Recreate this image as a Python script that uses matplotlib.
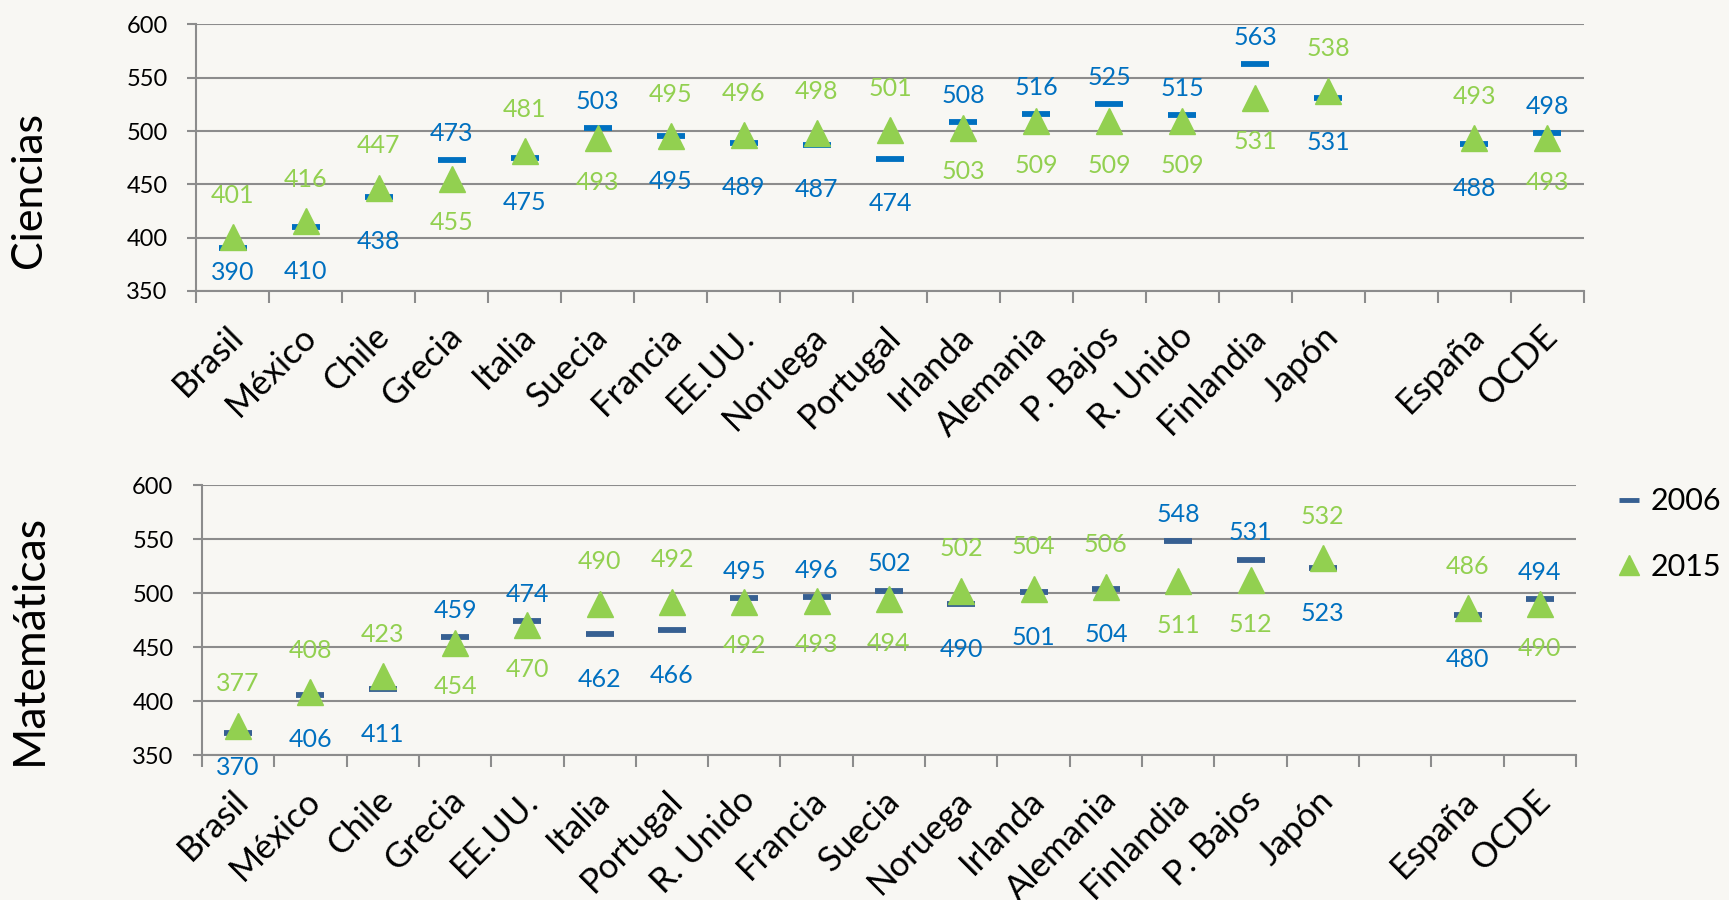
import numpy as np
import matplotlib.pyplot as plt
import matplotlib.transforms as mtransforms
from matplotlib.lines import Line2D

plt.rcParams['font.family'] = ['Lato', 'DejaVu Sans']

BG = '#f8f7f3'
GRID = '#8c8c8c'
BLUE = '#0070c0'
NAVY = '#376092'
GREEN = '#92d050'

# PISA scores, 2006 vs 2015 (empty slot separates España / OCDE)
ciencias_paises = ['Brasil', 'México', 'Chile', 'Grecia', 'Italia', 'Suecia',
                   'Francia', 'EE.UU.', 'Noruega', 'Portugal', 'Irlanda',
                   'Alemania', 'P. Bajos', 'R. Unido', 'Finlandia', 'Japón',
                   '', 'España', 'OCDE']
ciencias_2006 = [390, 410, 438, 473, 475, 503, 495, 489, 487, 474, 508,
                 516, 525, 515, 563, 531, np.nan, 488, 498]
ciencias_2015 = [401, 416, 447, 455, 481, 493, 495, 496, 498, 501, 503,
                 509, 509, 509, 531, 538, np.nan, 493, 493]

mates_paises = ['Brasil', 'México', 'Chile', 'Grecia', 'EE.UU.', 'Italia',
                'Portugal', 'R. Unido', 'Francia', 'Suecia', 'Noruega',
                'Irlanda', 'Alemania', 'Finlandia', 'P. Bajos', 'Japón',
                '', 'España', 'OCDE']
mates_2006 = [370, 406, 411, 459, 474, 462, 466, 495, 496, 502, 490,
              501, 504, 548, 531, 523, np.nan, 480, 494]
mates_2015 = [377, 408, 423, 454, 470, 490, 492, 492, 493, 494, 502,
              504, 506, 511, 512, 532, np.nan, 486, 490]


def draw_panel(ax, labels, v2006, v2015, dash_color, floor):
    x = np.arange(len(labels))
    v2006 = np.asarray(v2006, dtype=float)
    v2015 = np.asarray(v2015, dtype=float)
    ax.set_facecolor(BG)

    ax.plot(x, v2006, ls='none', marker='_', ms=19.5, mew=4.2,
            color=dash_color, zorder=3)
    ax.plot(x, v2015, ls='none', marker='^', ms=18.5, color=GREEN,
            mec=GREEN, zorder=4)

    # higher score labelled above its marker, lower one below
    for xi, a, b in zip(x, v2006, v2015):
        if np.isnan(a):
            continue
        if b >= a:
            ya, yb = a - 42, b + 39
        else:
            ya, yb = a + 25, b - 41
        ax.text(xi, max(ya, floor), f'{a:.0f}', color=BLUE, fontsize=18,
                ha='center', va='center', zorder=5)
        ax.text(xi, max(yb, floor), f'{b:.0f}', color=GREEN, fontsize=18,
                ha='center', va='center', zorder=5)

    ax.set_xlim(-0.5, len(labels) - 0.5)
    ax.set_ylim(350, 600)
    ax.set_yticks(np.arange(350, 601, 50))
    ax.grid(axis='y', color=GRID, lw=1.5)
    ax.set_axisbelow(True)

    for s in ('top', 'right'):
        ax.spines[s].set_visible(False)
    for s in ('left', 'bottom'):
        ax.spines[s].set_color(GRID)
        ax.spines[s].set_linewidth(1.5)

    ax.set_xticks(x)
    ax.set_xticklabels(labels, rotation=45, ha='right', rotation_mode='anchor')
    ax.set_xticks(np.arange(-0.5, len(labels)), minor=True)
    ax.tick_params(axis='x', which='major', length=0, pad=21, labelsize=25)
    ax.tick_params(axis='x', which='minor', length=8.6, width=1.5, color=GRID)
    ax.tick_params(axis='y', direction='out', length=6.5, width=1.5,
                   color=GRID, pad=14, labelsize=17)

    # nudge the slanted names a little to the left
    shift = mtransforms.ScaledTranslation(-0.06, 0, ax.figure.dpi_scale_trans)
    for lbl in ax.get_xticklabels():
        lbl.set_transform(lbl.get_transform() + shift)


fig = plt.figure(figsize=(17.29, 9.0), dpi=100, facecolor=BG)
ax1 = fig.add_axes([0.1134, 0.6767, 0.8027, 0.2962])
ax2 = fig.add_axes([0.1168, 0.1611, 0.7947, 0.3000])

draw_panel(ax1, ciencias_paises, ciencias_2006, ciencias_2015, BLUE, 367)
draw_panel(ax2, mates_paises, mates_2006, mates_2015, NAVY, 338)

fig.text(0.017, 0.789, 'Ciencias', rotation=90, fontsize=31,
         ha='center', va='center')
fig.text(0.017, 0.290, 'Matemáticas', rotation=90, fontsize=32,
         ha='center', va='center')

handles = [
    Line2D([], [], ls='none', marker='_', ms=15, mew=3.5, color=NAVY),
    Line2D([], [], ls='none', marker='^', ms=15, color=GREEN, mec=GREEN),
]
ax2.legend(handles, ['2006', '2015'], loc='center left',
           bbox_to_anchor=(0.935, 0.4066), bbox_transform=fig.transFigure,
           frameon=False, fontsize=22, handlelength=0.8, handletextpad=0.3,
           labelspacing=1.23, borderpad=0, borderaxespad=0)

fig.savefig('out.png', dpi=100, facecolor=BG)
